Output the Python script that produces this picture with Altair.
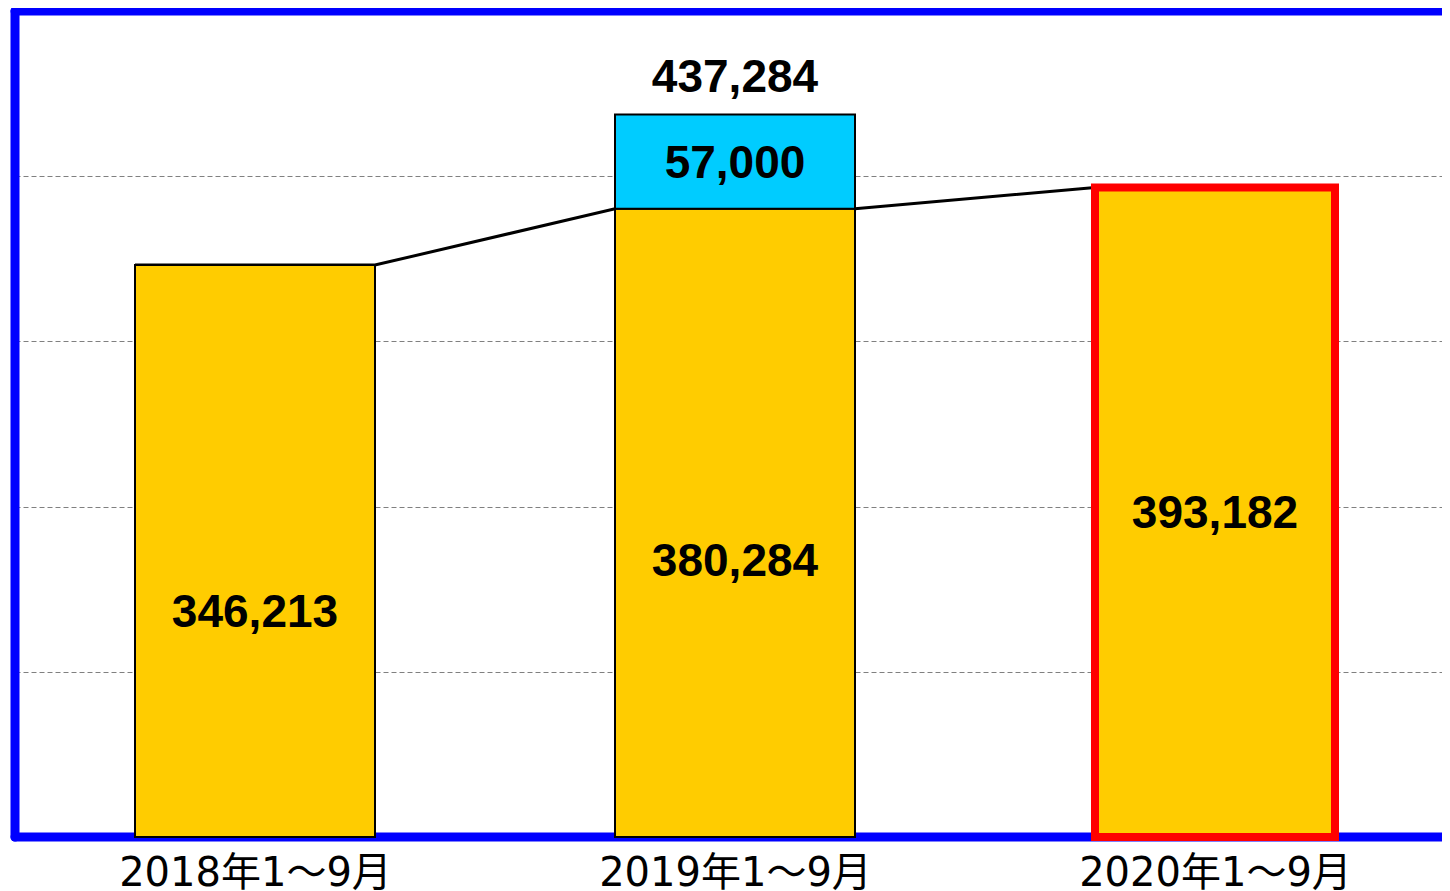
import json
import altair as alt
import pandas as pd

# ---- data ----
categories = ["2018年1〜9月", "2019年1〜9月", "2020年1〜9月"]
base_values = [346213, 380284, 393182]
extra_values = [0, 57000, 0]
total_values = [0, 437284, 0]
base_label_at = [137000, 167500, 196600]
highlighted = [False, False, True]
grid_values = [100000, 200000, 300000, 400000]

W, H = 1427, 826
STEP_PX = 480  # pixel width of one category slot
x_max = W / STEP_PX

# ---- tables built from the arrays ----
bar_rows, label_rows, line_rows, total_rows = [], [], [], []
for i, cat in enumerate(categories):
    b = base_values[i]
    bar_rows.append(dict(i=i, seg="base", start=0, end=b,
                         hl="hl" if highlighted[i] else "normal"))
    label_rows.append(dict(i=i, y=base_label_at[i], text=f"{b:,}"))
    line_rows.append(dict(i=i, edge=0, v=b))
    line_rows.append(dict(i=i, edge=1, v=b))
    if extra_values[i]:
        e = extra_values[i]
        bar_rows.append(dict(i=i, seg="extra", start=b, end=b + e, hl="normal"))
        label_rows.append(dict(i=i, y=b + e / 2, text=f"{e:,}"))
    if total_values[i]:
        total_rows.append(dict(i=i, y=total_values[i], text=f"{total_values[i]:,}"))

bars_df = pd.DataFrame(bar_rows)
labels_df = pd.DataFrame(label_rows)
line_df = pd.DataFrame(line_rows)
total_df = pd.DataFrame(total_rows)

xscale = alt.Scale(domain=[0, x_max], nice=False, zero=False)
yscale = alt.Scale(domain=[0, 500000], nice=False)

label_expr = json.dumps(categories, ensure_ascii=False) + "[floor(datum.value)]"

x_axis = alt.Axis(values=[0.5, 1.5, 2.5], labelExpr=label_expr, grid=False,
                  domain=False, ticks=False, title=None, labelFontSize=40,
                  labelFont="DejaVu Sans, Noto Sans CJK JP", labelColor="black",
                  labelPadding=16, labelBaseline="top", labelFlush=False,
                  labelOverlap=False, labelLimit=0)
y_axis = alt.Axis(values=grid_values, grid=True, labels=False, ticks=False,
                  domain=False, title=None, gridDash=[5, 3],
                  gridColor="#808080", gridWidth=1)

dummy = pd.DataFrame({"a": [0]})
border_left = alt.Chart(dummy).mark_rule(color="#0000FF", strokeWidth=9, strokeCap="round").encode(
    x=alt.value(0), y=alt.value(0), y2=alt.value(H))
border_top = alt.Chart(dummy).mark_rule(color="#0000FF", strokeWidth=9, strokeCap="round").encode(
    x=alt.value(0), x2=alt.value(W + 30), y=alt.value(0))
border_bottom = alt.Chart(dummy).mark_rule(color="#0000FF", strokeWidth=9, strokeCap="round").encode(
    x=alt.value(0), x2=alt.value(W + 30), y=alt.value(H))

line = alt.Chart(line_df).transform_calculate(
    xp="datum.i + 0.25 + 0.5 * datum.edge"
).mark_line(color="black", strokeWidth=3).encode(
    x=alt.X("xp:Q", scale=xscale, axis=x_axis),
    y=alt.Y("v:Q", scale=yscale, axis=y_axis),
    order=alt.Order("xp:Q"),
)

bars = alt.Chart(bars_df).transform_calculate(
    x0="datum.i + 0.25", x1="datum.i + 0.75"
).mark_bar().encode(
    x=alt.X("x0:Q", scale=xscale, axis=x_axis),
    x2="x1:Q",
    y=alt.Y("start:Q", scale=yscale, axis=y_axis),
    y2="end:Q",
    color=alt.Color("seg:N", scale=alt.Scale(domain=["base", "extra"],
                                             range=["#FFCC00", "#00CCFF"]), legend=None),
    stroke=alt.Stroke("hl:N", scale=alt.Scale(domain=["normal", "hl"],
                                              range=["#000000", "#FF0000"]), legend=None),
    strokeWidth=alt.StrokeWidth("hl:N", scale=alt.Scale(domain=["normal", "hl"],
                                                        range=[2, 8]), legend=None),
)

text_style = dict(font="Liberation Sans", fontWeight="bold", fontSize=46,
                  baseline="middle", align="center", color="black")

labels = alt.Chart(labels_df).transform_calculate(
    xc="datum.i + 0.5"
).mark_text(dy=2, **text_style).encode(
    x=alt.X("xc:Q", scale=xscale, axis=x_axis),
    y=alt.Y("y:Q", scale=yscale, axis=y_axis),
    text="text:N",
)

totals = alt.Chart(total_df).transform_calculate(
    xc="datum.i + 0.5"
).mark_text(dy=-37, **text_style).encode(
    x=alt.X("xc:Q", scale=xscale, axis=x_axis),
    y=alt.Y("y:Q", scale=yscale, axis=y_axis),
    text="text:N",
)

chart = alt.layer(
    line, border_left, border_top, border_bottom, bars, labels, totals
).properties(
    width=W, height=H,
    autosize=alt.AutoSizeParams(type="none"),
    padding={"left": 7, "top": 3, "right": 0, "bottom": 62},
    background="white",
).configure_view(stroke="transparent")

chart.save("out.html", embed_options={"renderer": "svg", "actions": False})
